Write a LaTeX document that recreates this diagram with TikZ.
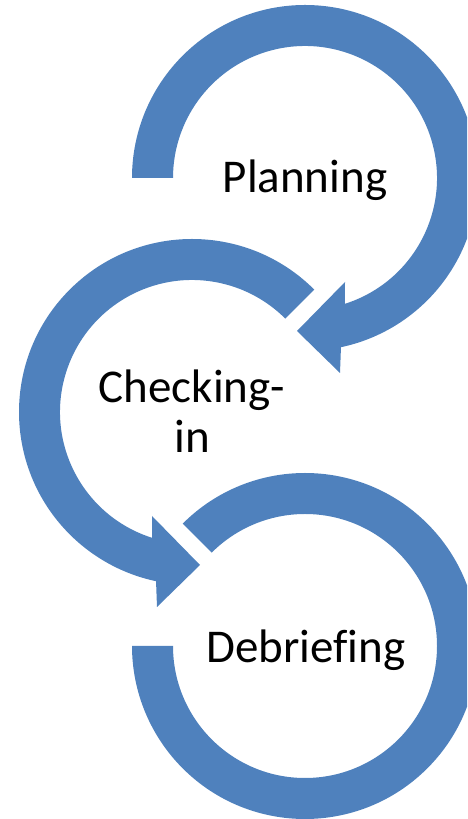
\documentclass[tikz,border=0pt]{standalone}
\usepackage{fontspec}
\setmainfont{Carlito}[Ligatures=NoCommon]
\definecolor{ringblue}{HTML}{4F81BD}
\tikzset{
  ring/.style={fill=ringblue, draw=none},
  lbl/.style={font=\fontsize{47}{50}\selectfont, text=black, inner sep=0pt, anchor=base, align=center}
}
\begin{document}
\begin{tikzpicture}[x=1pt,y=1pt]
\useasboundingbox (0,0) rectangle (467,819);
\clip (0,0) rectangle (467,819);
% circle 3 (Debriefing) - drawn first
\begin{scope}[shift={(305,173)}]
  \fill[ring] (135:173) arc[start angle=135, end angle=-180, radius=173]
    -- (-180:132) arc[start angle=-180, end angle=135, radius=132] -- cycle;
\end{scope}
% circle 2 (Checking-in)
\begin{scope}[shift={(192,407)}]
  \fill[ring] (45:173) arc[start angle=45, end angle=258, radius=173]
    -- (-35,-195) -- (8,-153) -- (-40,-104)
    -- (252.4:132) arc[start angle=252.4, end angle=45, radius=132] -- cycle;
\end{scope}
% circle 1 (Planning)
\begin{scope}[shift={(305,641)}]
  \fill[ring] (180:173) arc[start angle=180, end angle=-78, radius=173]
    -- (35,-195) -- (-8,-153) -- (40,-104)
    -- (-72.4:132) arc[start angle=-72.4, end angle=180, radius=132] -- cycle;
\end{scope}
\node[lbl] (plan) at (305,626) {Planning};
\node[lbl] (check) at (192,366) {Checking-\\in};
\node[lbl] (debrief) at (306,156) {Debriefing};
\end{tikzpicture}
\end{document}
